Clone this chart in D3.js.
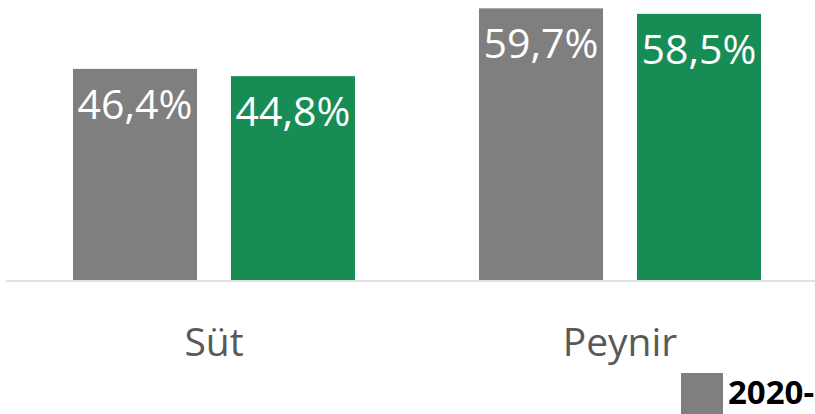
<!DOCTYPE html>
<html>
<head>
<meta charset="utf-8">
<style>
body { margin: 0; background: #fff; }
svg { display: block; }
text { font-family: "Open Sans", "Noto Sans", sans-serif; }
</style>
</head>
<body>
<script src="https://cdn.jsdelivr.net/npm/d3@7"></script>
<script>
// chart data
var categories = ["Süt", "Peynir"];
var seriesNames = ["2020-", "2021-"];
var values2020 = [46.4, 59.7];
var values2021 = [44.8, 58.5];
var seriesColors = ["#7f7f7f", "#178c55"];

var W = 815, H = 414;
var baseY = 280;

var svg = d3.select("body").append("svg")
  .attr("width", W)
  .attr("height", H);

// outer scale: one band per category
var x0 = d3.scaleBand()
  .domain(categories)
  .range([11, 823])
  .paddingInner(0.3054)
  .paddingOuter(0.1527);

// inner scale: one bar per series
var x1 = d3.scaleBand()
  .domain(seriesNames)
  .range([0, x0.bandwidth()])
  .paddingInner(0.215);

var y = d3.scaleLinear()
  .domain([0, 60])
  .range([baseY, 7]);

var rows = categories.map(function(c, i) {
  return {cat: c, vals: [
    {name: seriesNames[0], v: values2020[i], color: seriesColors[0]},
    {name: seriesNames[1], v: values2021[i], color: seriesColors[1]}
  ]};
});

var groups = svg.selectAll("g.grp")
  .data(rows)
  .enter().append("g")
  .attr("class", "grp")
  .attr("transform", function(d) { return "translate(" + x0(d.cat) + ",0)"; });

groups.selectAll("rect")
  .data(function(d) { return d.vals; })
  .enter().append("rect")
  .attr("x", function(d) { return x1(d.name); })
  .attr("y", function(d) { return y(d.v); })
  .attr("width", x1.bandwidth())
  .attr("height", function(d) { return baseY - y(d.v); })
  .attr("fill", function(d) { return d.color; });

// value labels, white inside top of bar
groups.selectAll("text.val")
  .data(function(d) { return d.vals; })
  .enter().append("text")
  .attr("class", "val")
  .attr("x", function(d) { return x1(d.name) + x1.bandwidth() / 2; })
  .attr("y", function(d) { return y(d.v) + 50; })
  .attr("text-anchor", "middle")
  .attr("fill", "#fff")
  .style("font-size", "41px")
  .text(function(d) { return d.v.toFixed(1).replace(".", ",") + "%"; });

// baseline
svg.append("line")
  .attr("x1", 6)
  .attr("x2", W)
  .attr("y1", baseY + 1)
  .attr("y2", baseY + 1)
  .attr("stroke", "#d9d9d9")
  .attr("stroke-width", 1.5);

// category labels
svg.selectAll("text.cat")
  .data(categories)
  .enter().append("text")
  .attr("class", "cat")
  .attr("x", function(d) { return x0(d) + x0.bandwidth() / 2; })
  .attr("y", 356)
  .attr("text-anchor", "middle")
  .attr("fill", "#595959")
  .style("font-size", "39px")
  .text(function(d) { return d; });

// legend (only the first entry fits, as in the original)
var leg = svg.append("g")
  .attr("transform", "translate(681,373)");

leg.append("rect")
  .attr("width", 42)
  .attr("height", 42)
  .attr("fill", seriesColors[0]);

leg.append("text")
  .attr("x", 47)
  .attr("y", 31)
  .attr("fill", "#000")
  .style("font-size", "33px")
  .style("font-weight", "bold")
  .text(seriesNames[0]);
</script>
</body>
</html>
